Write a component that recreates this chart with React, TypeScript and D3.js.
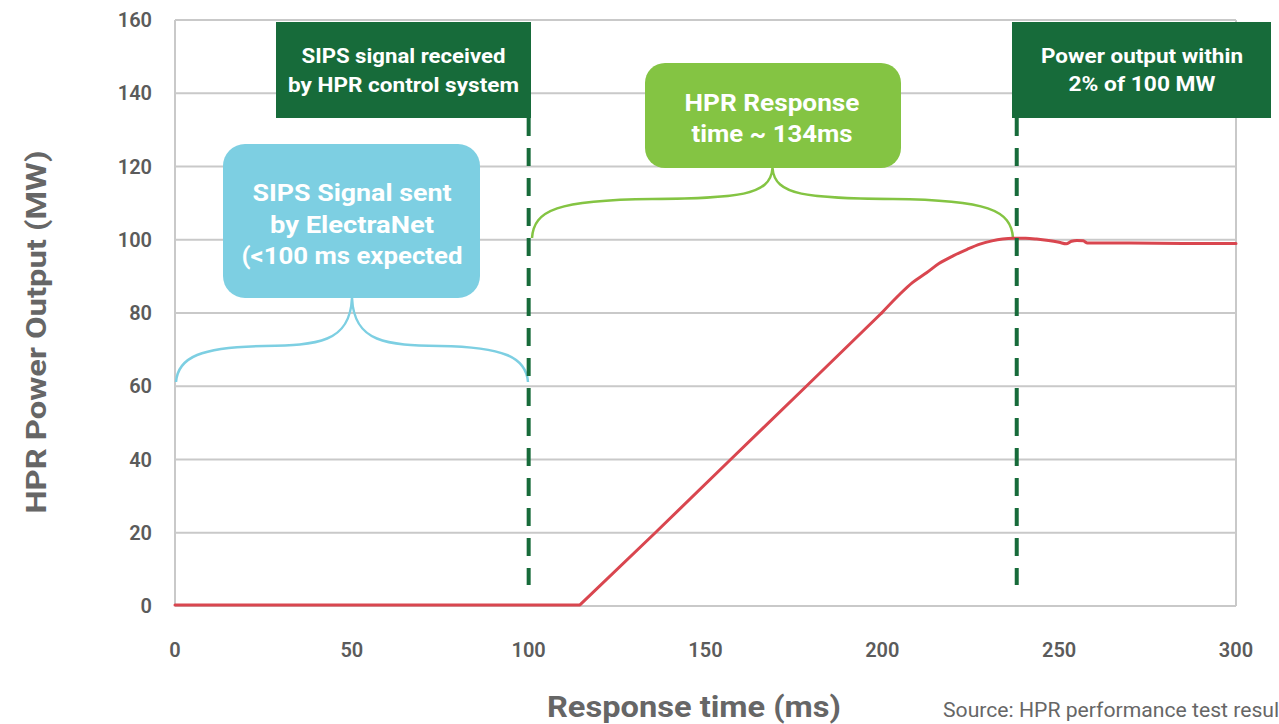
import React from "react";
import * as d3 from "d3";

const xTicks = [0, 50, 100, 150, 200, 250, 300];
const yTicks = [0, 20, 40, 60, 80, 100, 120, 140, 160];
const timeMs = [0, 114.5, 135.8, 157.1, 178.5, 199.8, 205, 208.5, 212.5, 216, 220, 224, 227.6, 231, 234, 237, 240.5, 243.6, 247, 250, 252, 253.5, 255, 256.8, 258, 270, 285, 300];
const powerMW = [0.3, 0.3, 20, 40, 60, 80, 85.2, 88.3, 91, 93.5, 95.6, 97.4, 98.8, 99.7, 100.2, 100.4, 100.4, 100.2, 99.8, 99.3, 98.9, 99.6, 99.8, 99.7, 99.1, 99.1, 99.0, 99.0];
const markerTimes = [100, 238];
const rampEndIndex = 5;

const W = 1279;
const H = 724;
const GRAY = "#5b5b5b";
const DARK = "#176b3a";
const BLUE = "#7dcfe2";
const GREEN = "#84c443";
const RED = "#d9464f";
const FONT = "Roboto, 'Open Sans', sans-serif";

function brace(x0: number, x1: number, yb: number, ys: number, yt: number) {
  const xm = (x0 + x1) / 2;
  const lh = (xm - x0) / 2;
  const rh = (x1 + xm) / 2;
  return [
    `M${x0},${yb}`,
    `C${x0 + 2},${ys + 10} ${x0 + 25},${ys} ${x0 + lh},${ys - 1}`,
    `C${xm - 35},${ys - 2} ${xm - 2},${ys - 4} ${xm},${yt}`,
    `C${xm + 2},${ys - 4} ${xm + 35},${ys - 2} ${rh},${ys - 1}`,
    `C${x1 - 25},${ys} ${x1 - 2},${ys + 10} ${x1},${yb}`,
  ].join(" ");
}

export default function App() {
  const x = d3.scaleLinear().domain([0, 300]).range([175, 1236]);
  const y = d3.scaleLinear().domain([0, 160]).range([606, 20]);
  const pts: [number, number][] = timeMs.map((t, i) => [t, powerMW[i]]);
  const linear = d3
    .line<[number, number]>()
    .x((d) => x(d[0]))
    .y((d) => y(d[1]));
  const smooth = d3
    .line<[number, number]>()
    .x((d) => x(d[0]))
    .y((d) => y(d[1]))
    .curve(d3.curveMonotoneX);

  const boxText = (
    lines: string[],
    cx: number,
    ys: number[],
    widths: number[],
    size: number
  ) =>
    lines.map((s, i) => (
      <text
        key={i}
        x={cx}
        y={ys[i]}
        textAnchor="middle"
        dominantBaseline="central"
        fill="#fff"
        fontFamily={FONT}
        fontWeight={700}
        fontSize={size}
        textLength={widths[i]}
        lengthAdjust="spacingAndGlyphs"
      >
        {s}
      </text>
    ));

  return (
    <svg
      width={W}
      height={H}
      style={{ position: "absolute", left: 0, top: 0, background: "#fff" }}
    >
      {yTicks.map((t) => (
        <line key={t} x1={x(0)} x2={x(300)} y1={y(t)} y2={y(t)} stroke="#c9c9c9" strokeWidth={2} />
      ))}
      <line x1={x(0)} x2={x(0)} y1={y(160)} y2={y(0)} stroke="#c9c9c9" strokeWidth={2} />
      <line x1={x(300)} x2={x(300)} y1={y(160)} y2={y(0)} stroke="#c9c9c9" strokeWidth={2} />

      {yTicks.map((t) => (
        <text key={t} x={152} y={y(t)} textAnchor="end" dominantBaseline="central" fill={GRAY} fontFamily={FONT} fontWeight={600} fontSize={20}>
          {t}
        </text>
      ))}
      {xTicks.map((t) => (
        <text key={t} x={x(t)} y={650} textAnchor="middle" dominantBaseline="central" fill={GRAY} fontFamily={FONT} fontWeight={600} fontSize={20}>
          {t}
        </text>
      ))}

      <text
        transform={`translate(37,332) rotate(-90)`}
        textAnchor="middle"
        dominantBaseline="central"
        fill="#666"
        fontFamily={FONT}
        fontWeight={700}
        fontSize={27}
        textLength={363}
        lengthAdjust="spacingAndGlyphs"
      >
        HPR Power Output (MW)
      </text>
      <text x={694} y={707} textAnchor="middle" dominantBaseline="central" fill="#666" fontFamily={FONT} fontWeight={700} fontSize={29} textLength={294} lengthAdjust="spacingAndGlyphs">
        Response time (ms)
      </text>
      <text x={943} y={710} dominantBaseline="central" fill="#666" fontFamily={FONT} fontSize={20} textLength={354} lengthAdjust="spacingAndGlyphs">
        Source: HPR performance test results
      </text>

      <path d={brace(176, 528, 382, 347, 298)} fill="none" stroke={BLUE} strokeWidth={2.5} />
      <path d={brace(532, 1013, 238, 200, 168)} fill="none" stroke={GREEN} strokeWidth={2.5} />

      <path d={linear(pts.slice(0, rampEndIndex + 1)) || ""} fill="none" stroke={RED} strokeWidth={3} strokeLinejoin="round" strokeLinecap="round" />
      <path d={smooth(pts.slice(rampEndIndex)) || ""} fill="none" stroke={RED} strokeWidth={3} strokeLinejoin="round" strokeLinecap="round" />

      {markerTimes.map((t) => (
        <line key={t} x1={x(t)} x2={x(t)} y1={118} y2={585} stroke={DARK} strokeWidth={4} strokeDasharray="18 12" />
      ))}

      <rect x={276} y={22} width={255} height={96} fill={DARK} />
      {boxText(["SIPS signal received", "by HPR control system"], 403.5, [56, 85], [204, 231], 20)}

      <rect x={1012} y={22} width={259} height={96} fill={DARK} />
      {boxText(["Power output within", "2% of 100 MW"], 1142, [56, 84], [202, 147], 20)}

      <rect x={223} y={144} width={257} height={154} rx={22} fill={BLUE} />
      {boxText(["SIPS Signal sent", "by ElectraNet", "(<100 ms expected"], 352, [193, 224.5, 256], [199, 164, 221], 24)}

      <rect x={645} y={63} width={256} height={105} rx={20} fill={GREEN} />
      {boxText(["HPR Response", "time ~ 134ms"], 772, [103, 134], [175, 161], 24)}
    </svg>
  );
}
